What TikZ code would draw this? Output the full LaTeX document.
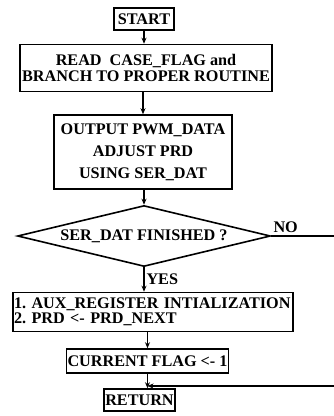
\documentclass[tikz,border=0pt]{standalone}
\usepackage{fontspec}
\setmainfont{Liberation Serif}
\usetikzlibrary{arrows.meta,shapes.geometric}
\frenchspacing

\begin{document}
\begin{tikzpicture}[x=1pt,y=-1pt,
        font=\bfseries\fontsize{16.2}{15.5}\selectfont,
        >={Stealth[length=6pt,width=5pt]},
        blk/.style={draw,line width=1.6pt,inner sep=2pt,align=center},
        test/.style={diamond,draw,line width=1.6pt,aspect=4.1,inner sep=0pt},
        flow/.style={->,line width=1.1pt}]
        \useasboundingbox (0,0) rectangle (334,416);
        % boxes, top to bottom
        \node[blk,minimum width=60,minimum height=22] (start) at (144,19) {START};
        \node[blk,minimum width=252,minimum height=47] (read) at (146,68)
          {READ\ \ CASE\_FLAG and\\BRANCH TO PROPER ROUTINE};
        \node[blk,minimum width=178,minimum height=74] (out) at (143,152)
          {OUTPUT PWM\_DATA\\[6.5pt]ADJUST PRD\\[6.5pt]USING SER\_DAT};
        \node[test,minimum width=253,minimum height=61] (fin) at (144,236)
          {SER\_DAT FINISHED ?};
        \node[blk,minimum height=39,text width=278,inner sep=1pt,align=left] (aux) at (153,312)
          {1. AUX\_REGISTER INTIALIZATION\\2. PRD <- PRD\_NEXT};
        \node[blk,minimum width=160,minimum height=24,inner sep=1pt] (cur) at (147.5,361)
          {CURRENT FLAG <- 1};
        \node[blk,minimum width=62,minimum height=22,inner sep=1pt] (ret) at (139.5,400) {RETURN};
        % labels
        \node[anchor=south west,inner sep=1pt] (no) at ([xshift=1pt,yshift=2pt]fin.east) {NO};
        \coordinate (noR) at (338,236);
        \coordinate (retR) at (338,386);
        % connectors
        \draw[flow] (start.south) -- (start.south |- read.north);
        \draw[flow] (out.north |- read.south) -- (out.north);
        \draw[flow] (fin.north |- out.south) -- (fin.north);
        \draw[flow] (fin.south) -- (fin.south |- aux.north)
          node[pos=0.5,right,inner sep=2pt] (yes) {YES};
        \draw[flow] (cur.north |- aux.south) -- (cur.north);
        \draw[flow] (cur.south) -- (cur.south |- ret.north);
        \draw[line width=1.1pt] (fin.east) -- (noR) -- (retR);
        \draw[flow] (retR) -- (retR -| cur.south);
\end{tikzpicture}
\end{document}
